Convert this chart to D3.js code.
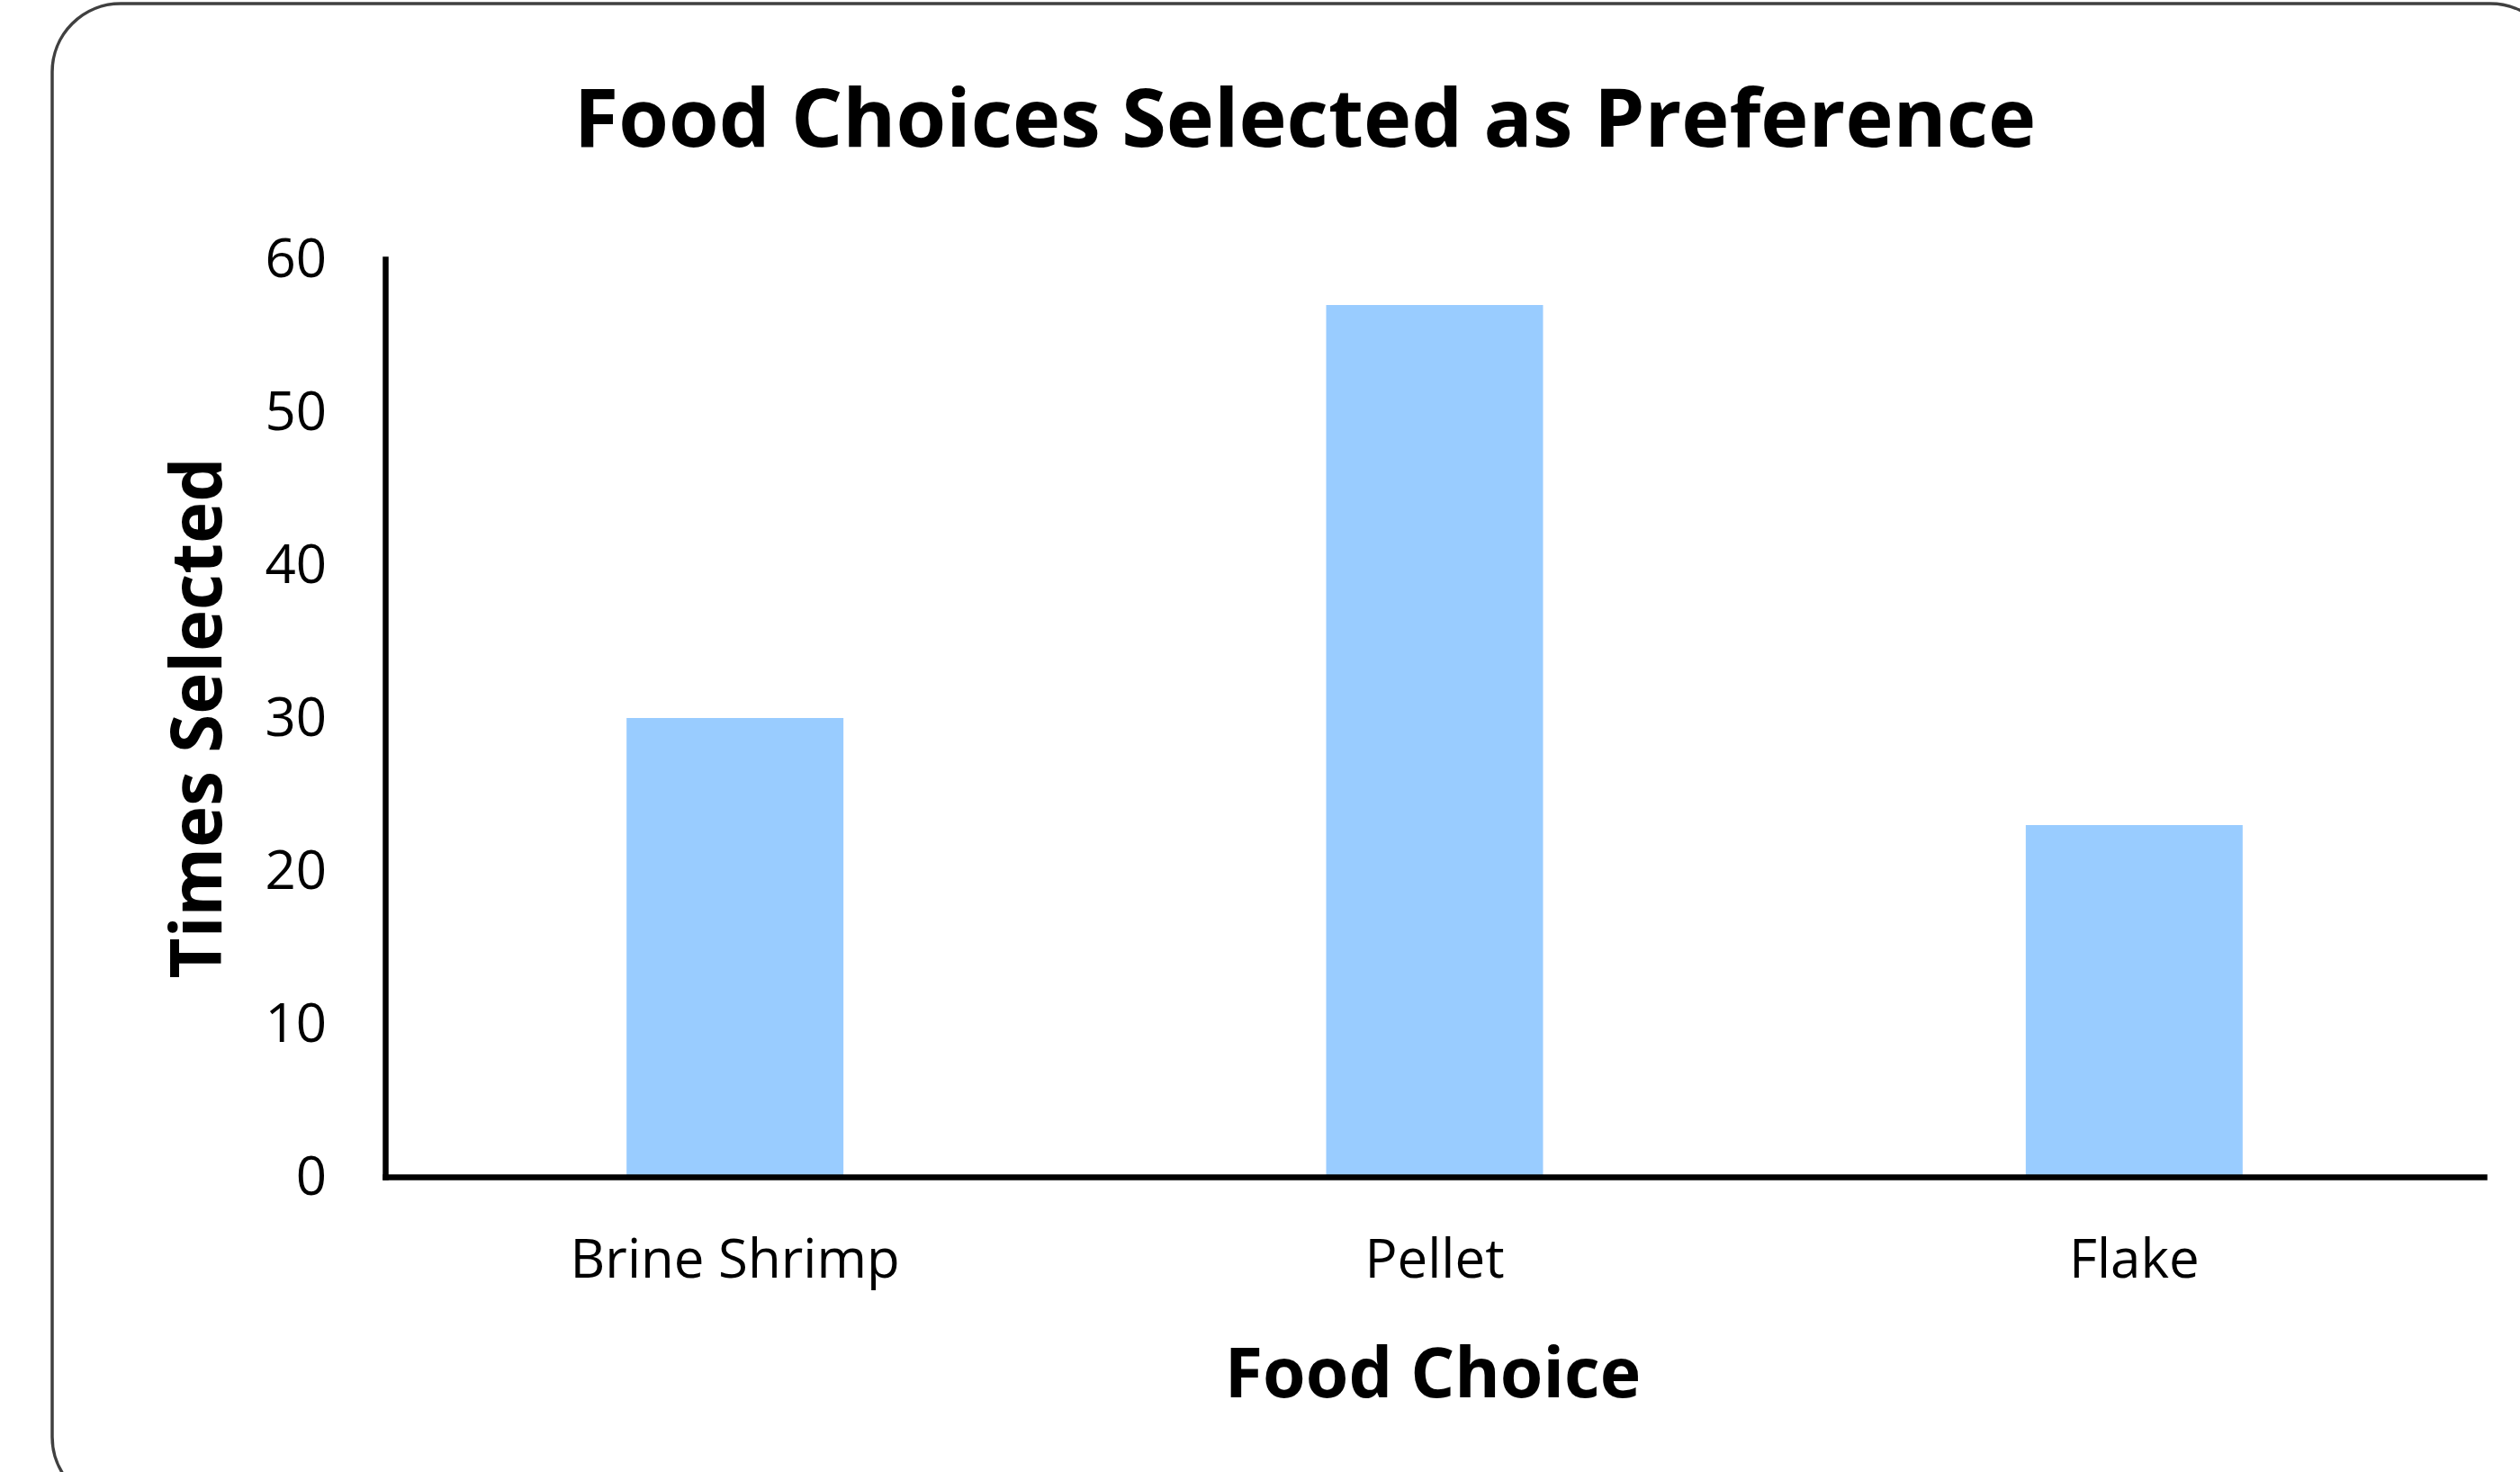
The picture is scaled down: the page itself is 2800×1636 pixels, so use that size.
<!DOCTYPE html>
<html>
<head>
<meta charset="utf-8">
<script src="https://cdn.jsdelivr.net/npm/d3@7"></script>
<style>
  html, body { margin: 0; padding: 0; background: #fff; overflow: hidden; }
  svg { display: block; }
</style>
</head>
<body>
<svg id="chart" width="2800" height="1636"></svg>
<script>
// data
var foods = ["Brine Shrimp", "Pellet", "Flake"];
var timesSelected = [30, 57, 23];
var yTicks = [0, 10, 20, 30, 40, 50, 60];

var svg = d3.select("#chart");
var font = "'Open Sans', sans-serif";

// rounded chart border, partly cut off by the image edges
svg.append("rect")
	.attr("x", 58)
	.attr("y", 4)
	.attr("width", 2785)
	.attr("height", 1669)
	.attr("rx", 76)
	.attr("fill", "#fff")
	.attr("stroke", "#404040")
	.attr("stroke-width", 3.5);

var plot = { left: 428, right: 2760, top: 288, bottom: 1308 };

var xScale = d3.scaleBand()
	.domain(foods)
	.range([plot.left, plot.right])
	.paddingInner(0.69)
	.paddingOuter(0.345);

var yScale = d3.scaleLinear()
	.domain([0, 60])
	.range([plot.bottom, plot.top]);

// bars
svg.append("g")
	.selectAll("rect")
	.data(foods)
	.enter()
	.append("rect")
	.attr("x", function(d) { return xScale(d); })
	.attr("y", function(d, i) { return yScale(timesSelected[i]); })
	.attr("width", xScale.bandwidth())
	.attr("height", function(d, i) { return plot.bottom - yScale(timesSelected[i]); })
	.attr("fill", "#99CCFF");

// y axis
var yAxis = svg.append("g")
	.attr("transform", "translate(" + plot.left + ",0)")
	.call(d3.axisLeft(yScale).tickValues(yTicks).tickSize(0).tickPadding(65));

// x axis
var xAxis = svg.append("g")
	.attr("transform", "translate(0," + plot.bottom + ")")
	.call(d3.axisBottom(xScale).tickSize(0).tickPadding(69));

[yAxis, xAxis].forEach(function(ax) {
	ax.select(".domain")
		.attr("stroke", "#000")
		.attr("stroke-width", 6.5)
		.attr("stroke-linecap", "square");
	ax.selectAll("text")
		.attr("fill", "#000")
		.style("font-family", font)
		.style("font-size", "60px");
});

// title
svg.append("text")
	.attr("x", 1450)
	.attr("y", 163)
	.attr("text-anchor", "middle")
	.style("font-family", font)
	.style("font-weight", "bold")
	.style("font-size", "90px")
	.text("Food Choices Selected as Preference");

// axis titles
svg.append("text")
	.attr("x", 1592)
	.attr("y", 1553)
	.attr("text-anchor", "middle")
	.style("font-family", font)
	.style("font-weight", "bold")
	.style("font-size", "77px")
	.text("Food Choice");

svg.append("text")
	.attr("transform", "translate(246,798) rotate(-90)")
	.attr("text-anchor", "middle")
	.style("font-family", font)
	.style("font-weight", "bold")
	.style("font-size", "78px")
	.text("Times Selected");
</script>
</body>
</html>
